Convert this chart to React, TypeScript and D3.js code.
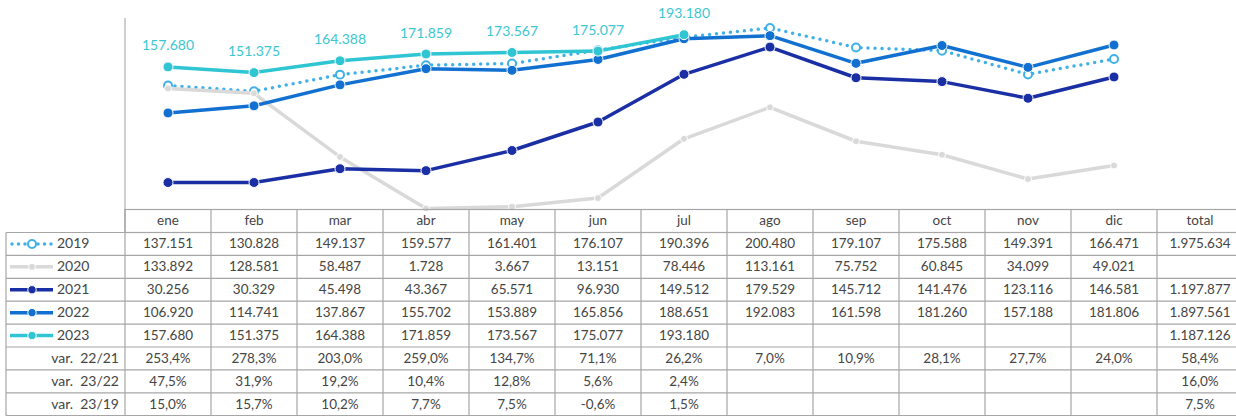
import React from "react";
import * as d3 from "d3";

const months = ["ene", "feb", "mar", "abr", "may", "jun", "jul", "ago", "sep", "oct", "nov", "dic"];
const columns = [...months, "total"];

const v2019 = [137151, 130828, 149137, 159577, 161401, 176107, 190396, 200480, 179107, 175588, 149391, 166471];
const v2020 = [133892, 128581, 58487, 1728, 3667, 13151, 78446, 113161, 75752, 60845, 34099, 49021];
const v2021 = [30256, 30329, 45498, 43367, 65571, 96930, 149512, 179529, 145712, 141476, 123116, 146581];
const v2022 = [106920, 114741, 137867, 155702, 153889, 165856, 188651, 192083, 161598, 181260, 157188, 181806];
const v2023 = [157680, 151375, 164388, 171859, 173567, 175077, 193180, null, null, null, null, null];

const totals = [1975634, null, 1197877, 1897561, 1187126];

const var2221 = [253.4, 278.3, 203.0, 259.0, 134.7, 71.1, 26.2, 7.0, 10.9, 28.1, 27.7, 24.0, 58.4];
const var2322 = [47.5, 31.9, 19.2, 10.4, 12.8, 5.6, 2.4, null, null, null, null, null, 16.0];
const var2319 = [15.0, 15.7, 10.2, 7.7, 7.5, -0.6, 1.5, null, null, null, null, null, 7.5];

const seriesNames = ["2019", "2020", "2021", "2022", "2023"];
const varNames = ["var.  22/21", "var.  23/22", "var.  23/19"];

const COLORS: Record<string, string> = {
  "2019": "#3fb1e8",
  "2020": "#d9d9d9",
  "2021": "#1b2fa5",
  "2022": "#1271d0",
  "2023": "#2fc5d2",
};

const locale = d3.formatLocale({ decimal: ",", thousands: ".", grouping: [3], currency: ["", "€"], minus: "-" });
const fmtNum = locale.format(",d");
const fmtPct = locale.format(".1f");

const FONT = "Lato, 'Open Sans', sans-serif";
const W = 1236;
const H = 416;

export default function App() {
  const seriesValues = [v2019, v2020, v2021, v2022, v2023];
  const series = seriesNames.map((name, i) => ({ name, values: seriesValues[i], total: totals[i] }));
  const varRows = [var2221, var2322, var2319].map((vals, i) => ({ name: varNames[i], values: vals }));

  const x = d3.scaleBand<string>().domain(columns).range([125, 125 + 86 * columns.length]);
  const cx = (m: string) => (x(m) as number) + x.bandwidth() / 2;
  const y = d3.scaleLinear().domain([0, 211000]).range([210, 18.5]);

  const line = d3
    .line<number | null>()
    .defined((d) => d != null)
    .x((_, i) => cx(months[i]))
    .y((d) => y(d as number));

  const headerTop = 209.5;
  const headerBottom = 232.5;
  const rowH = 22.9;
  const tableLeft = 6;
  const labelRight = 125;
  const rows = series.length + varRows.length;
  const tableBottom = headerBottom + rows * rowH;
  const gridColor = "#a6a6a6";
  const textColor = "#454545";

  const rowY = (r: number) => headerBottom + r * rowH;

  const legendLine = (name: string, yy: number) => {
    const c = COLORS[name];
    const x0 = 10, x1 = 53, mx = 32;
    if (name === "2019") {
      return (
        <g>
          <line x1={x0 + 2} x2={x1} y1={yy} y2={yy} stroke={c} strokeWidth={3.5} strokeLinecap="round" strokeDasharray="0 6.5" />
          <circle cx={mx} cy={yy} r={4} fill="#fff" stroke={c} strokeWidth={2} />
        </g>
      );
    }
    return (
      <g>
        <line x1={x0} x2={x1} y1={yy} y2={yy} stroke={c} strokeWidth={3.5} />
        <circle cx={mx} cy={yy} r={name === "2020" ? 3.5 : 4.2} fill={c} stroke="#fff" strokeWidth={1} />
      </g>
    );
  };

  return (
    <svg width={W} height={H} style={{ position: "absolute", left: 0, top: 0, background: "#fff" }} fontFamily={FONT}>
      {/* plot axis */}
      <line x1={125} x2={125} y1={18} y2={headerTop} stroke="#bfbfbf" strokeWidth={1.5} />

      {/* series lines */}
      {series.map((s) => {
        const c = COLORS[s.name];
        const isDotted = s.name === "2019";
        return (
          <g key={s.name}>
            <path
              d={line(s.values) || ""}
              fill="none"
              stroke={c}
              strokeWidth={3.5}
              strokeLinecap={isDotted ? "round" : "butt"}
              strokeLinejoin="round"
              strokeDasharray={isDotted ? "0 7" : undefined}
            />
            {s.values.map((v, i) =>
              v == null ? null : isDotted ? (
                <circle key={i} cx={cx(months[i])} cy={y(v)} r={4} fill="#fff" stroke={c} strokeWidth={2} />
              ) : (
                <circle
                  key={i}
                  cx={cx(months[i])}
                  cy={y(v)}
                  r={s.name === "2020" ? 3.5 : 5}
                  fill={c}
                  stroke="#fff"
                  strokeWidth={1}
                />
              )
            )}
          </g>
        );
      })}

      {/* data labels for 2023 */}
      {v2023.map((v, i) =>
        v == null ? null : (
          <text
            key={i}
            x={cx(months[i])}
            y={y(v) - 20}
            textAnchor="middle"
            dominantBaseline="middle"
            fontSize={14}
            fill="#3cc6d0"
          >
            {fmtNum(v)}
          </text>
        )
      )}

      {/* table */}
      <g>
        <rect x={labelRight} y={headerTop} width={W - labelRight + 2} height={headerBottom - headerTop} fill="none" stroke={gridColor} strokeWidth={1.2} />
        {columns.map((c) => (
          <text key={c} x={cx(c)} y={(headerTop + headerBottom) / 2 + 1} textAnchor="middle" dominantBaseline="middle" fontSize={13.5} fill={textColor}>
            {c}
          </text>
        ))}
        {d3.range(rows + 1).map((r) => (
          <line key={r} x1={tableLeft} x2={W} y1={rowY(r)} y2={rowY(r)} stroke={gridColor} strokeWidth={1.2} />
        ))}
        <line x1={tableLeft} x2={tableLeft} y1={headerBottom} y2={tableBottom} stroke={gridColor} strokeWidth={1.2} />
        {columns.map((c) => (
          <line key={c} x1={x(c) as number} x2={x(c) as number} y1={headerTop} y2={tableBottom} stroke={gridColor} strokeWidth={1.2} />
        ))}

        {series.map((s, r) => {
          const cy = rowY(r) + rowH / 2;
          return (
            <g key={s.name}>
              {legendLine(s.name, cy)}
              <text x={57} y={cy + 1} dominantBaseline="middle" fontSize={14} fill={textColor}>
                {s.name}
              </text>
              {s.values.map((v, i) =>
                v == null ? null : (
                  <text key={i} x={cx(months[i])} y={cy + 1} textAnchor="middle" dominantBaseline="middle" fontSize={13.5} fill={textColor}>
                    {fmtNum(v)}
                  </text>
                )
              )}
              {s.total != null && (
                <text x={cx("total")} y={cy + 1} textAnchor="middle" dominantBaseline="middle" fontSize={13.5} fill={textColor}>
                  {fmtNum(s.total)}
                </text>
              )}
            </g>
          );
        })}

        {varRows.map((vr, k) => {
          const cy = rowY(series.length + k) + rowH / 2;
          return (
            <g key={vr.name}>
              <text x={119} y={cy + 1} textAnchor="end" dominantBaseline="middle" fontSize={14} fill={textColor} style={{ whiteSpace: "pre" }}>
                {vr.name}
              </text>
              {vr.values.map((v, i) =>
                v == null ? null : (
                  <text key={i} x={cx(columns[i])} y={cy + 1} textAnchor="middle" dominantBaseline="middle" fontSize={13.5} fill={textColor}>
                    {fmtPct(v) + "%"}
                  </text>
                )
              )}
            </g>
          );
        })}
      </g>
    </svg>
  );
}
